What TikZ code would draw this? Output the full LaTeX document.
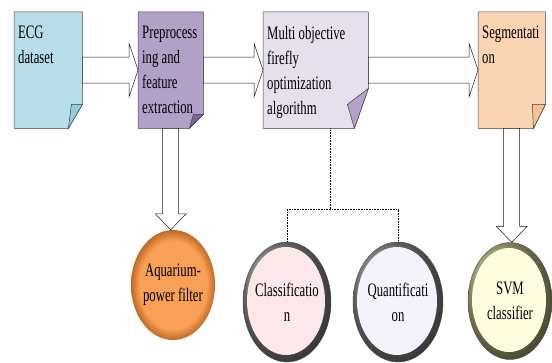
\documentclass[tikz,border=0pt]{standalone}
\usepackage{fontspec}
\setmainfont{Liberation Serif}[FakeStretch=0.67]
\usetikzlibrary{calc,backgrounds,shapes.geometric}

\definecolor{ecgfill}{HTML}{B7DDE8}
\definecolor{ecgfold}{HTML}{92CDDC}
\definecolor{prefill}{HTML}{B2A1C7}
\definecolor{prefold}{HTML}{8064A2}
\definecolor{mofill}{HTML}{E5E0EC}
\definecolor{mofold}{HTML}{B3A2C7}
\definecolor{segfill}{HTML}{FBD4B4}
\definecolor{segfold}{HTML}{FAC08F}
\definecolor{aqfill}{HTML}{F8A055}
\definecolor{aqedge}{HTML}{C06A28}
\definecolor{clsfill}{HTML}{FCE8E8}
\definecolor{qntfill}{HTML}{F4F2FA}
\definecolor{svmfill}{HTML}{FFFDE0}

\pgfdeclareradialshading{aqshade}{\pgfpoint{0bp}{0bp}}{color(0bp)=(aqfill); color(20bp)=(aqfill); color(25bp)=(aqedge); color(50bp)=(aqedge)}

\tikzset{
  page/.style={rectangle, minimum height=116pt, anchor=north west, inner sep=0pt},
  pagetext/.style={anchor=north west, align=left, inner xsep=4pt, inner ysep=14pt, font=\fontsize{19}{25}\selectfont},
  disctext/.style={align=center, inner sep=0pt, font=\fontsize{19}{25}\selectfont},
  rimdisc/.style={ellipse, draw=black!70, line width=.4pt, minimum width=88pt, minimum height=120pt},
  blockarr/.style={draw=black!90, fill=white, line width=.5pt, line join=miter},
  dotline/.style={dash pattern=on 1pt off .6pt, line width=1pt},
}

% page outline with a folded corner: node, fill, fold, cut height, cut width, fold x, fold y
\newcommand{\pageoutline}[7]{%
  \begin{scope}[on background layer]
    \filldraw[fill=#2, draw=black!75, line width=.5pt] (#1.north west) -- (#1.north east) -- ($(#1.south east)+(0,-#4)$) -- ($(#1.south east)+(-#5,0)$) -- (#1.south west) -- cycle;
  \end{scope}
  \filldraw[fill=#3, draw=black!75, line width=.5pt] ($(#1.south east)+(0,-#4)$) -- ($(#1.south east)+(#6,-#7)$) -- ($(#1.south east)+(-#5,0)$) -- cycle;
}
% hollow block arrows
\newcommand{\hblock}[2]{%
  \path (#1) coordinate (bs) (#2 |- #1) coordinate (bt);
  \draw[blockarr] ($(bs)+(0,-13)$) -- ($(bt)+(-9,-13)$) -- ($(bt)+(-9,-27)$) -- (bt) -- ($(bt)+(-9,27)$) -- ($(bt)+(-9,13)$) -- ($(bs)+(0,13)$) -- cycle;
}
\newcommand{\vblock}[2]{%
  \path (#1) coordinate (bs) (#1 |- #2) coordinate (bt);
  \draw[blockarr] ($(bs)+(-8,0)$) -- ($(bt)+(-8,-16)$) -- ($(bt)+(-15.5,-16)$) -- (bt) -- ($(bt)+(15.5,-16)$) -- ($(bt)+(8,-16)$) -- ($(bs)+(8,0)$) -- cycle;
}

\begin{document}
\begin{tikzpicture}[x=1pt,y=-1pt]
  \useasboundingbox (0,0) rectangle (552,363);
  % top row of pages
  \node[page, minimum width=68pt, label={[pagetext]north west:{ECG\\dataset}}] (ecg) at (14,12) {};
  \node[page, minimum width=65pt, label={[pagetext]north west:{Preprocess\\ing and\\feature\\extraction}}] (pre) at (138,12) {};
  \node[page, minimum width=105pt, label={[pagetext]north west:{Multi objective\\firefly\\optimization\\algorithm}}] (mofa) at (263,12) {};
  \node[page, minimum width=67pt, label={[pagetext]north west:{Segmentati\\on}}] (seg) at (478,12) {};
  \pageoutline{ecg}{ecgfill}{ecgfold}{24}{14}{-11}{24}
  \pageoutline{pre}{prefill}{prefold}{14}{14}{-10}{14}
  \pageoutline{mofa}{mofill}{mofold}{40}{14}{-21}{24}
  \pageoutline{seg}{segfill}{segfold}{24}{12}{-13}{24}

  % bottom row
  \node[ellipse, minimum width=84pt, minimum height=110pt, shading=aqshade,
        label={[disctext]center:Aquarium-\\power filter}] (aq) at (173,285) {};
  \node[rimdisc, ball color=black!45,
        path picture={\fill[clsfill] ($(path picture bounding box.center)+(-1pt,1pt)$) ellipse [x radius=39pt, y radius=54pt];},
        label={[disctext]center:Classificatio\\n}] (cls) at (287,302) {};
  \node[rimdisc, minimum width=90pt, ball color=black!45,
        path picture={\fill[qntfill] ($(path picture bounding box.center)+(-1pt,1pt)$) ellipse [x radius=40pt, y radius=54pt];},
        label={[disctext]center:Quantificati\\on}] (qnt) at (398,302) {};
  \node[rimdisc, minimum width=84pt, minimum height=117pt, ball color=yellow!45!black!50,
        path picture={\fill[svmfill] ($(path picture bounding box.center)+(-1pt,1pt)$) ellipse [x radius=37pt, y radius=52pt];},
        label={[disctext]center:SVM\\classifier}] (svm) at (510,301) {};

  % connectors
  \hblock{ecg.east}{pre.west}
  \hblock{pre.east}{mofa.west}
  \hblock{mofa.east}{seg.west}
  \vblock{pre.south}{aq.north}
  \vblock{seg.south}{svm.north}
  \coordinate (split) at (330,210);
  \draw[dotline] (mofa.south -| split) -- (split);
  \draw[dotline] (cls.north) |- (split) -| (qnt.north);
\end{tikzpicture}
\end{document}
